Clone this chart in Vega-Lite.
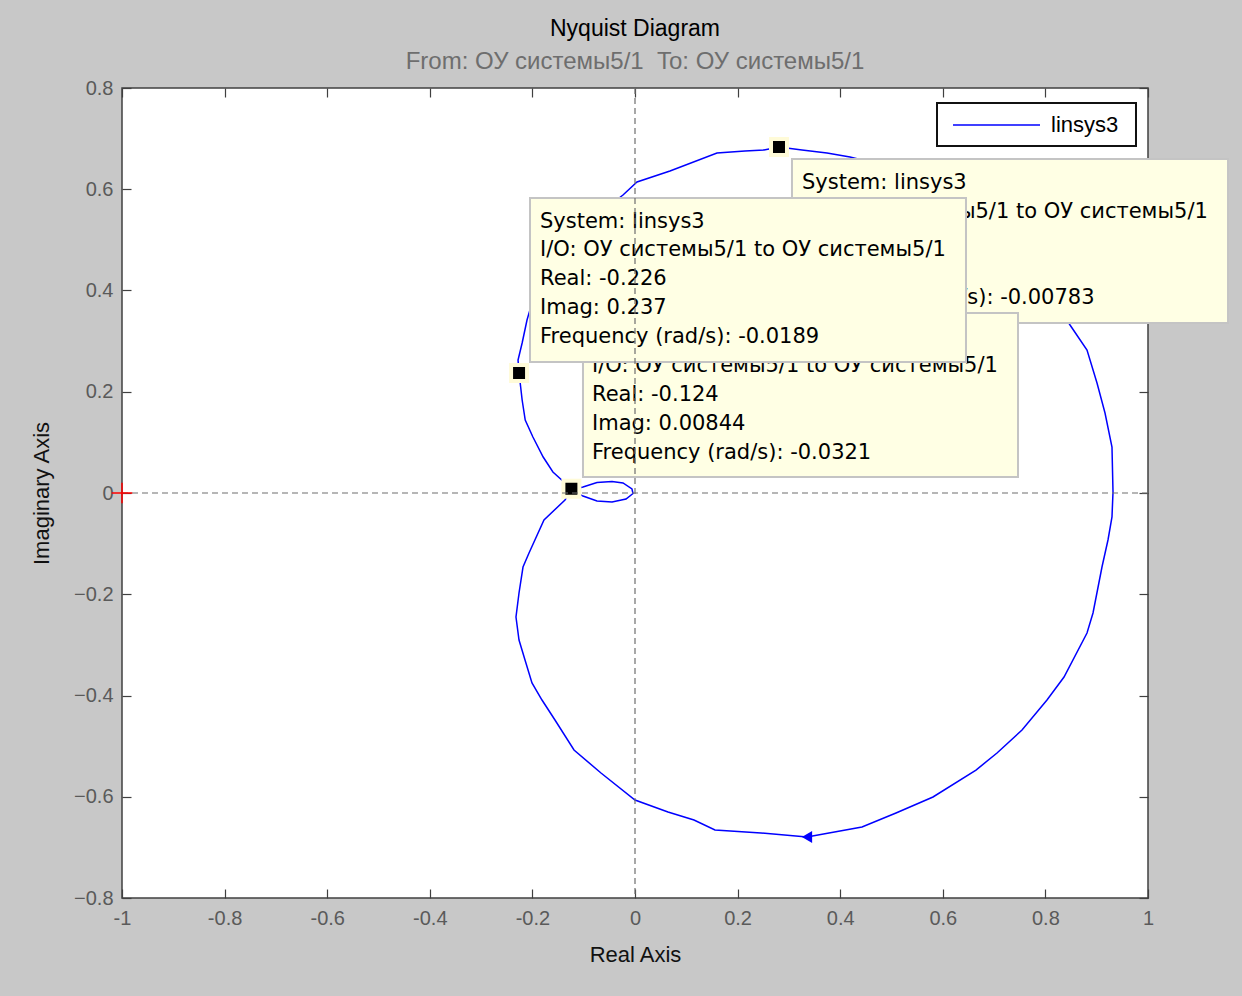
{
  "$schema": "https://vega.github.io/schema/vega-lite/v6.json",
  "width": 1026,
  "height": 810,
  "autosize": {"type": "none"},
  "padding": {"left": 122, "top": 88, "right": 94, "bottom": 98},
  "background": "#c8c8c8",
  "title": {
    "text": "Nyquist Diagram",
    "subtitle": "From: ОУ системы5/1\u00a0 To: ОУ системы5/1",
    "anchor": "middle",
    "font": "Liberation Sans",
    "fontSize": 23,
    "fontWeight": "normal",
    "color": "#000000",
    "subtitleFont": "Liberation Sans",
    "subtitleFontSize": 24,
    "subtitleColor": "#6e6e6e",
    "subtitlePadding": 9,
    "offset": 4
  },
  "config": {
    "view": {"stroke": "#404040", "strokeWidth": 1.5, "fill": "white"},
    "axis": {"grid": false, "domain": false, "tickColor": "#404040", "tickWidth": 1.2, "tickSize": -9, "labelFont": "Liberation Sans", "labelFontSize": 20, "labelColor": "#5a5a5a", "titleFont": "Liberation Sans", "titleFontSize": 22, "titleFontWeight": "normal", "titleColor": "#111111", "labelOverlap": false, "labelFlush": false}
  },
  "datasets": {
    "curve": [
      {"i": 1, "re": -0.124, "im": 0.00844},
      {"i": 2, "re": -0.160, "im": 0.0415},
      {"i": 3, "re": -0.179, "im": 0.0711},
      {"i": 4, "re": -0.199, "im": 0.1106},
      {"i": 5, "re": -0.214, "im": 0.1442},
      {"i": 6, "re": -0.220, "im": 0.1837},
      {"i": 7, "re": -0.226, "im": 0.237},
      {"i": 8, "re": -0.228, "im": 0.2627},
      {"i": 9, "re": -0.220, "im": 0.2963},
      {"i": 10, "re": -0.2105, "im": 0.3417},
      {"i": 11, "re": -0.2008, "im": 0.3753},
      {"i": 12, "re": -0.1813, "im": 0.4089},
      {"i": 13, "re": -0.156, "im": 0.4484},
      {"i": 14, "re": -0.1189, "im": 0.5077},
      {"i": 15, "re": -0.0663, "im": 0.5551},
      {"i": 16, "re": -0.0234, "im": 0.5886},
      {"i": 17, "re": 0.0039, "im": 0.6143},
      {"i": 18, "re": 0.0682, "im": 0.636},
      {"i": 19, "re": 0.1598, "im": 0.6716},
      {"i": 20, "re": 0.2144, "im": 0.6756},
      {"i": 21, "re": 0.2515, "im": 0.6775},
      {"i": 22, "re": 0.2807, "im": 0.6835},
      {"i": 23, "re": 0.3255, "im": 0.6775},
      {"i": 24, "re": 0.3743, "im": 0.6716},
      {"i": 25, "re": 0.4191, "im": 0.6637},
      {"i": 26, "re": 0.4425, "im": 0.6578},
      {"i": 27, "re": 0.5088, "im": 0.6321},
      {"i": 28, "re": 0.5809, "im": 0.6005},
      {"i": 29, "re": 0.6647, "im": 0.5472},
      {"i": 30, "re": 0.7057, "im": 0.5136},
      {"i": 31, "re": 0.7544, "im": 0.4681},
      {"i": 32, "re": 0.8031, "im": 0.4089},
      {"i": 33, "re": 0.848, "im": 0.3319},
      {"i": 34, "re": 0.8811, "im": 0.2825},
      {"i": 35, "re": 0.9006, "im": 0.2173},
      {"i": 36, "re": 0.9162, "im": 0.158},
      {"i": 37, "re": 0.9298, "im": 0.0909},
      {"i": 38, "re": 0.9318, "im": 0.002},
      {"i": 39, "re": 0.9298, "im": -0.0474},
      {"i": 40, "re": 0.922, "im": -0.0928},
      {"i": 41, "re": 0.9103, "im": -0.1462},
      {"i": 42, "re": 0.8928, "im": -0.237},
      {"i": 43, "re": 0.8811, "im": -0.2765},
      {"i": 44, "re": 0.8363, "im": -0.3635},
      {"i": 45, "re": 0.8031, "im": -0.4089},
      {"i": 46, "re": 0.7544, "im": -0.4681},
      {"i": 47, "re": 0.7057, "im": -0.5136},
      {"i": 48, "re": 0.6647, "im": -0.5472},
      {"i": 49, "re": 0.5809, "im": -0.6005},
      {"i": 50, "re": 0.5088, "im": -0.6321},
      {"i": 51, "re": 0.4425, "im": -0.6598},
      {"i": 52, "re": 0.3353, "im": -0.6795},
      {"i": 53, "re": 0.2456, "im": -0.6716},
      {"i": 54, "re": 0.1559, "im": -0.6657},
      {"i": 55, "re": 0.115, "im": -0.6459},
      {"i": 56, "re": 0.0643, "im": -0.6301},
      {"i": 57, "re": 0.0, "im": -0.6064},
      {"i": 58, "re": -0.0663, "im": -0.5531},
      {"i": 59, "re": -0.1189, "im": -0.5077},
      {"i": 60, "re": -0.156, "im": -0.4484},
      {"i": 61, "re": -0.1813, "im": -0.4089},
      {"i": 62, "re": -0.2008, "im": -0.3753},
      {"i": 63, "re": -0.2144, "im": -0.3299},
      {"i": 64, "re": -0.2261, "im": -0.2904},
      {"i": 65, "re": -0.232, "im": -0.2449},
      {"i": 66, "re": -0.2261, "im": -0.1975},
      {"i": 67, "re": -0.2183, "im": -0.1462},
      {"i": 68, "re": -0.2066, "im": -0.1185},
      {"i": 69, "re": -0.1774, "im": -0.0533},
      {"i": 70, "re": -0.1365, "im": -0.0138},
      {"i": 71, "re": -0.124, "im": 0.006},
      {"i": 72, "re": -0.1014, "im": 0.0119},
      {"i": 73, "re": -0.0741, "im": 0.0208},
      {"i": 74, "re": -0.0448, "im": 0.0227},
      {"i": 75, "re": -0.0234, "im": 0.0198},
      {"i": 76, "re": -0.0059, "im": 0.0079},
      {"i": 77, "re": -0.0039, "im": -0.0010},
      {"i": 78, "re": -0.0175, "im": -0.0119},
      {"i": 79, "re": -0.0448, "im": -0.0178},
      {"i": 80, "re": -0.0741, "im": -0.0158},
      {"i": 81, "re": -0.1014, "im": -0.006},
      {"i": 82, "re": -0.1228, "im": 0.0059}
    ],
    "markers": [
      {"re": 0.2807, "im": 0.6835},
      {"re": -0.226, "im": 0.237},
      {"re": -0.124, "im": 0.00844}
    ],
    "arrow": [{"re": 0.3353, "im": -0.6795}],
    "boxes": [
      {"box": "T1", "x1": 0.306, "x2": 1.156, "y1": 0.66, "y2": 0.336},
      {"box": "T3", "x1": -0.1014, "x2": 0.7466, "y1": 0.3556, "y2": 0.0316},
      {"box": "T2", "x1": -0.2047, "x2": 0.6452, "y1": 0.5827, "y2": 0.2588}
    ],
    "notes": [
      {"box": "T1", "re": 0.3255, "im": 0.6123, "text": "System: linsys3"},
      {"box": "T1", "re": 0.3255, "im": 0.5551, "text": "I/O: ОУ системы5/1 to ОУ системы5/1"},
      {"box": "T1", "re": 0.3255, "im": 0.4978, "text": "Real: 0.281"},
      {"box": "T1", "re": 0.3255, "im": 0.4405, "text": "Imag: 0.683"},
      {"box": "T1", "re": 0.3255, "im": 0.3852, "text": "Frequency (rad/s): -0.00783"},
      {"box": "T3", "re": -0.0838, "im": 0.3081, "text": "System: linsys3"},
      {"box": "T3", "re": -0.0838, "im": 0.2509, "text": "I/O: ОУ системы5/1 to ОУ системы5/1"},
      {"box": "T3", "re": -0.0838, "im": 0.1936, "text": "Real: -0.124"},
      {"box": "T3", "re": -0.0838, "im": 0.1363, "text": "Imag: 0.00844"},
      {"box": "T3", "re": -0.0838, "im": 0.079, "text": "Frequency (rad/s): -0.0321"},
      {"box": "T2", "re": -0.1852, "im": 0.5353, "text": "System: linsys3"},
      {"box": "T2", "re": -0.1852, "im": 0.48, "text": "I/O: ОУ системы5/1 to ОУ системы5/1"},
      {"box": "T2", "re": -0.1852, "im": 0.4227, "text": "Real: -0.226"},
      {"box": "T2", "re": -0.1852, "im": 0.3654, "text": "Imag: 0.237"},
      {"box": "T2", "re": -0.1852, "im": 0.3081, "text": "Frequency (rad/s): -0.0189"}
    ],
    "legendbox": [
      {"label": "linsys3", "x1": 0.5887, "x2": 0.9766, "y1": 0.7704, "y2": 0.6854, "s1": 0.6199, "s2": 0.7895, "ly": 0.7269, "lx": 0.8109}
    ]
  },
  "resolve": {"axis": {"x": "independent", "y": "independent"}},
  "layer": [
    {
      "data": {"name": "curve"},
      "mark": {"type": "line", "strokeWidth": 1.5, "color": "#0000ff"},
      "encoding": {
        "x": {"field": "re", "type": "quantitative", "scale": {"domain": [-1, 1], "nice": false, "zero": false},
          "axis": {"orient": "bottom", "values": [-1, -0.8, -0.6, -0.4, -0.2, 0, 0.2, 0.4, 0.6, 0.8, 1], "format": ".1~f", "labelExpr": "replace(datum.label, '−', '-')", "labelPadding": 19, "title": "Real Axis", "titlePadding": 16}},
        "y": {"field": "im", "type": "quantitative", "scale": {"domain": [-0.8, 0.8], "nice": false, "zero": false},
          "axis": {"orient": "left", "values": [-0.8, -0.6, -0.4, -0.2, 0, 0.2, 0.4, 0.6, 0.8], "format": ".1~f", "labelPadding": 18, "title": "Imaginary Axis", "titlePadding": 20}},
        "order": {"field": "i", "type": "quantitative"}
      }
    },
    {
      "data": {"name": "arrow"},
      "mark": {"type": "point", "shape": "triangle-left", "filled": true, "color": "#0000ff", "size": 140, "opacity": 1},
      "encoding": {
        "x": {"field": "re", "type": "quantitative", "axis": null},
        "y": {"field": "im", "type": "quantitative", "axis": null}
      }
    },
    {
      "data": {"name": "markers"},
      "mark": {"type": "point", "shape": "square", "filled": true, "fill": "#000000", "stroke": "#fffbd8", "strokeWidth": 4, "size": 256, "opacity": 1},
      "encoding": {
        "x": {"field": "re", "type": "quantitative", "axis": null},
        "y": {"field": "im", "type": "quantitative", "axis": null}
      }
    },
    {
      "data": {"name": "boxes"},
      "transform": [{"filter": "datum.box == 'T1'"}],
      "mark": {"type": "rect", "fill": "#ffffe4", "stroke": "#c4c4c4", "strokeWidth": 2},
      "encoding": {
        "x": {"field": "x1", "type": "quantitative", "axis": null}, "x2": {"field": "x2"},
        "y": {"field": "y1", "type": "quantitative", "axis": null}, "y2": {"field": "y2"}
      }
    },
    {
      "data": {"name": "notes"},
      "transform": [{"filter": "datum.box == 'T1'"}],
      "mark": {"type": "text", "align": "left", "baseline": "middle", "font": "DejaVu Sans", "fontSize": 21, "color": "#000000"},
      "encoding": {
        "x": {"field": "re", "type": "quantitative", "axis": null},
        "y": {"field": "im", "type": "quantitative", "axis": null},
        "text": {"field": "text"}
      }
    },
    {
      "data": {"name": "boxes"},
      "transform": [{"filter": "datum.box == 'T3'"}],
      "mark": {"type": "rect", "fill": "#ffffe4", "stroke": "#c4c4c4", "strokeWidth": 2},
      "encoding": {
        "x": {"field": "x1", "type": "quantitative", "axis": null}, "x2": {"field": "x2"},
        "y": {"field": "y1", "type": "quantitative", "axis": null}, "y2": {"field": "y2"}
      }
    },
    {
      "data": {"name": "notes"},
      "transform": [{"filter": "datum.box == 'T3'"}],
      "mark": {"type": "text", "align": "left", "baseline": "middle", "font": "DejaVu Sans", "fontSize": 21, "color": "#000000"},
      "encoding": {
        "x": {"field": "re", "type": "quantitative", "axis": null},
        "y": {"field": "im", "type": "quantitative", "axis": null},
        "text": {"field": "text"}
      }
    },
    {
      "data": {"name": "boxes"},
      "transform": [{"filter": "datum.box == 'T2'"}],
      "mark": {"type": "rect", "fill": "#ffffe4", "stroke": "#c4c4c4", "strokeWidth": 2},
      "encoding": {
        "x": {"field": "x1", "type": "quantitative", "axis": null}, "x2": {"field": "x2"},
        "y": {"field": "y1", "type": "quantitative", "axis": null}, "y2": {"field": "y2"}
      }
    },
    {
      "data": {"name": "notes"},
      "transform": [{"filter": "datum.box == 'T2'"}],
      "mark": {"type": "text", "align": "left", "baseline": "middle", "font": "DejaVu Sans", "fontSize": 21, "color": "#000000"},
      "encoding": {
        "x": {"field": "re", "type": "quantitative", "axis": null},
        "y": {"field": "im", "type": "quantitative", "axis": null},
        "text": {"field": "text"}
      }
    },
    {
      "data": {"values": [{"v": 0}]},
      "mark": {"type": "rule", "strokeDash": [6, 4], "color": "#6e6e6e", "strokeWidth": 1.2},
      "encoding": {"x": {"field": "v", "type": "quantitative", "axis": null}}
    },
    {
      "data": {"values": [{"v": 0}]},
      "mark": {"type": "rule", "strokeDash": [6, 4], "color": "#6e6e6e", "strokeWidth": 1.2},
      "encoding": {"y": {"field": "v", "type": "quantitative", "axis": null}}
    },
    {
      "data": {"name": "legendbox"},
      "mark": {"type": "rect", "fill": "#ffffff", "stroke": "#111111", "strokeWidth": 2},
      "encoding": {
        "x": {"field": "x1", "type": "quantitative", "axis": null}, "x2": {"field": "x2"},
        "y": {"field": "y1", "type": "quantitative", "axis": null}, "y2": {"field": "y2"}
      }
    },
    {
      "data": {"name": "legendbox"},
      "mark": {"type": "rule", "color": "#0000ff", "strokeWidth": 1.5},
      "encoding": {
        "x": {"field": "s1", "type": "quantitative", "axis": null}, "x2": {"field": "s2"},
        "y": {"field": "ly", "type": "quantitative", "axis": null}
      }
    },
    {
      "data": {"name": "legendbox"},
      "mark": {"type": "text", "align": "left", "baseline": "middle", "font": "Liberation Sans", "fontSize": 22, "color": "#000000"},
      "encoding": {
        "x": {"field": "lx", "type": "quantitative", "axis": null},
        "y": {"field": "ly", "type": "quantitative", "axis": null},
        "text": {"field": "label"}
      }
    },
    {
      "data": {"values": [{"re": -1, "im": 0}]},
      "mark": {"type": "point", "shape": "M-1,0H1M0,-1V1", "filled": false, "stroke": "#ff0000", "strokeWidth": 1.5, "size": 420, "opacity": 1},
      "encoding": {
        "x": {"field": "re", "type": "quantitative",
          "axis": {"orient": "top", "values": [-1, -0.8, -0.6, -0.4, -0.2, 0, 0.2, 0.4, 0.6, 0.8, 1], "labels": false, "title": null}},
        "y": {"field": "im", "type": "quantitative",
          "axis": {"orient": "right", "values": [-0.8, -0.6, -0.4, -0.2, 0, 0.2, 0.4, 0.6, 0.8], "labels": false, "title": null}}
      }
    }
  ]
}
